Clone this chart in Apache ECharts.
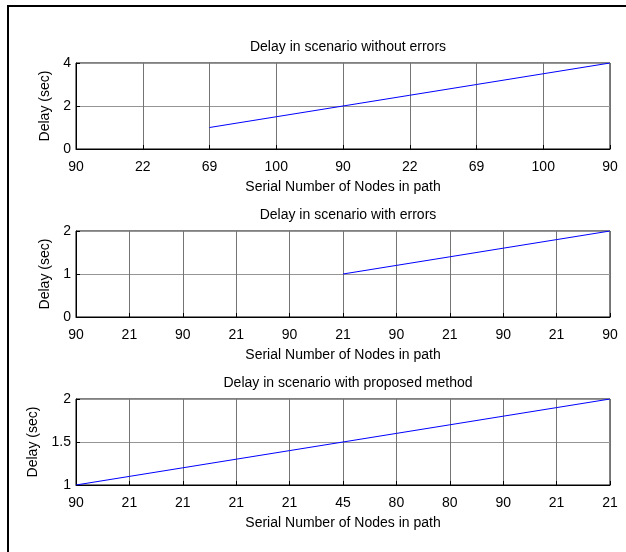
<!DOCTYPE html>
<html>
<head>
<meta charset="utf-8">
<script src="https://cdn.jsdelivr.net/npm/echarts@6/dist/echarts.min.js"></script>
<style>
  html, body { margin: 0; padding: 0; background: #fff; }
  #chart { width: 626px; height: 552px; }
</style>
</head>
<body>
<div id="chart"></div>
<script>
// Tick labels for each panel's x axis (node serial numbers)
const nodesNoErr = ['90', '22', '69', '100', '90', '22', '69', '100', '90'];
const nodesErr = ['90', '21', '90', '21', '90', '21', '90', '21', '90', '21', '90'];
const nodesProposed = ['90', '21', '21', '21', '21', '45', '80', '80', '90', '21', '21'];

// Delay values (sec) per tick position; null where no sample exists
const delayNoErr = [null, null, 1, 1.5, 2, 2.5, 3, 3.5, 4];
const delayErr = [null, null, null, null, null, 1, 1.2, 1.4, 1.6, 1.8, 2];
const delayProposed = [1, 1.1, 1.2, 1.3, 1.4, 1.5, 1.6, 1.7, 1.8, 1.9, 2];

const titles = [
  'Delay in scenario without errors',
  'Delay in scenario with errors',
  'Delay in scenario with proposed method'
];
const xName = 'Serial Number of Nodes in path';
const yName = 'Delay (sec)';

const FONT = 'Liberation Sans, Arial, sans-serif';
const plotLeft = 76, plotWidth = 534, plotHeight = 86;
const plotTops = [63, 231, 399];

const panels = [
  { labels: nodesNoErr, values: delayNoErr, yMin: 0, yMax: 4, yStep: 2, yGap: 24 },
  { labels: nodesErr, values: delayErr, yMin: 0, yMax: 2, yStep: 1, yGap: 24 },
  { labels: nodesProposed, values: delayProposed, yMin: 1, yMax: 2, yStep: 0.5, yGap: 36 }
];

const vGrid = { show: true, lineStyle: { color: '#747474', width: 1, type: 'solid' } };
const hGrid = { show: true, lineStyle: { color: '#959595', width: 1, type: 'solid' } };
const axisLine = { show: true, onZero: false, lineStyle: { color: '#000', width: 1 } };
const axisTick = { show: true, inside: true, length: 4, lineStyle: { color: '#000' } };

const option = {
  backgroundColor: '#fff',
  animation: false,
  title: panels.map((p, i) => ({
    text: titles[i],
    left: plotLeft + plotWidth / 2,
    textAlign: 'center',
    top: plotTops[i] - 28,
    textStyle: { fontFamily: FONT, fontSize: 14, fontWeight: 'normal', color: '#000' }
  })),
  grid: panels.map((p, i) => ({
    left: plotLeft, width: plotWidth, top: plotTops[i], height: plotHeight,
    show: true, borderColor: '#000', borderWidth: 1, backgroundColor: '#fff'
  })),
  xAxis: panels.map((p, i) => ({
    type: 'value',
    gridIndex: i,
    min: 0,
    max: p.labels.length - 1,
    interval: 1,
    axisLine, axisTick,
    splitLine: vGrid,
    axisLabel: {
      margin: 11,
      fontFamily: FONT, fontSize: 14, color: '#000',
      formatter: v => p.labels[Math.round(v)] ?? ''
    },
    name: xName,
    nameLocation: 'middle',
    nameGap: 31,
    nameTextStyle: { fontFamily: FONT, fontSize: 14, color: '#000' }
  })),
  yAxis: panels.map((p, i) => ({
    type: 'value',
    gridIndex: i,
    min: p.yMin,
    max: p.yMax,
    interval: p.yStep,
    axisLine, axisTick,
    splitLine: hGrid,
    axisLabel: { margin: 5, fontFamily: FONT, fontSize: 14, color: '#000' },
    name: yName,
    nameLocation: 'middle',
    nameGap: p.yGap,
    nameTextStyle: { fontFamily: FONT, fontSize: 14, color: '#000' }
  })),
  series: panels.map((p, i) => ({
    type: 'line',
    xAxisIndex: i,
    yAxisIndex: i,
    data: p.values.map((v, k) => [k, v]),
    showSymbol: false,
    connectNulls: false,
    lineStyle: { color: '#0000ff', width: 1 },
    itemStyle: { color: '#0000ff' }
  })),
  graphic: [
    { type: 'rect', shape: { x: 7, y: 5, width: 2, height: 547 }, style: { fill: '#000' }, silent: true },
    { type: 'rect', shape: { x: 7, y: 5, width: 619, height: 2 }, style: { fill: '#000' }, silent: true }
  ]
};

const chart = echarts.init(document.getElementById('chart'), null, { renderer: 'canvas' });
chart.setOption(option);
</script>
</body>
</html>
